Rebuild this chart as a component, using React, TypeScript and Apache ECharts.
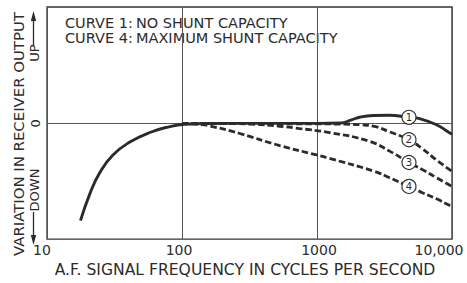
import React, { useEffect, useRef } from 'react';
import * as echarts from 'echarts';

// ---- data ----
const FREQ_TICKS = [10, 100, 1000, 10000];
const FREQ_TICK_LABELS = ['10', '100', '1000', '10,000'];

const curve1Freq = [17.7, 20.8, 24.7, 30.8, 41.1, 57.8, 81.3, 105, 160, 400, 1000, 1500, 1800, 2100, 2600, 3400, 4800, 5740, 7680, 9570, 10000];
const curve1Val = [-8.41, -6.07, -4.23, -2.73, -1.62, -0.79, -0.28, -0.08, -0.01, 0, 0, 0.03, 0.3, 0.55, 0.68, 0.7, 0.52, 0.4, -0.12, -0.81, -0.93];

const curve2Freq = [100, 300, 1000, 1600, 2065, 2670, 3444, 4800, 6040, 7680, 10000];
const curve2Val = [0, -0.03, -0.05, -0.07, -0.12, -0.27, -0.73, -1.42, -2.2, -3.17, -4.15];

const curve3Freq = [100, 200, 317, 529, 743, 1239, 2449, 3444, 4800, 6040, 7680, 10000];
const curve3Val = [0, -0.02, -0.06, -0.25, -0.45, -0.8, -1.55, -2.4, -3.38, -4.0, -4.7, -5.45];

const curve4Freq = [100, 136, 161, 268, 529, 993, 1239, 2670, 3444, 4800, 6040, 7680, 9570, 10000];
const curve4Val = [0, -0.1, -0.23, -0.88, -1.92, -2.73, -3.03, -4.15, -4.7, -5.45, -5.99, -6.52, -7.08, -7.15];

const CURVE_LABELS = ['1', '2', '3', '4'];
const CURVE_LABEL_FREQ = 4800;
const CURVE_LABEL_VALUES = [0.52, -1.42, -3.38, -5.45];

const NOTE_KEYS = ['CURVE 1:', 'CURVE 4:'];
const NOTE_TEXTS = ['NO SHUNT CAPACITY', 'MAXIMUM SHUNT CAPACITY'];

const X_NAME = 'A.F. SIGNAL FREQUENCY IN CYCLES PER SECOND';
const Y_NAME = 'VARIATION IN RECEIVER OUTPUT';

const INK = '#2b2b2b';
const FONT = 'DejaVu Sans';

const zip = (xs: number[], ys: number[]) => xs.map((x, i) => [x, ys[i]]);

export default function App() {
  const ref = useRef<HTMLDivElement>(null);

  useEffect(() => {
    if (!ref.current) return;
    const chart = echarts.init(ref.current, undefined, { renderer: 'svg' });

    const dashed = {
      color: INK,
      width: 2.8,
      type: [6.5, 3] as any,
      cap: 'butt' as const,
    };

    const lineSeries = (data: number[][], solid: boolean) => ({
      type: 'line',
      data,
      smooth: 0.5,
      showSymbol: false,
      symbol: 'none',
      lineStyle: solid ? { color: INK, width: 2.9 } : dashed,
      z: 3,
    });

    const rich: any = {};
    const shifts = [-5, -3, 2, -13];
    FREQ_TICK_LABELS.forEach((_, i) => {
      const s = shifts[i];
      rich['t' + i] = {
        fontFamily: FONT,
        fontSize: 14,
        color: INK,
        padding: s < 0 ? [0, -2 * s, 0, 0] : [0, 0, 0, 2 * s],
      };
    });

    chart.setOption({
      animation: false,
      backgroundColor: '#ffffff',
      grid: {
        left: 47,
        top: 7,
        width: 405,
        height: 240,
        show: true,
        borderColor: '#333',
        borderWidth: 1.3,
        backgroundColor: 'transparent',
      },
      xAxis: {
        type: 'log',
        logBase: 10,
        min: 10,
        max: 10000,
        name: X_NAME,
        nameLocation: 'middle',
        nameGap: 16,
        nameTextStyle: { fontFamily: FONT, fontSize: 15.6, color: INK, padding: [0, 9, 0, 0] },
        axisLine: { show: false },
        axisTick: { show: false },
        splitLine: { show: true, lineStyle: { color: '#555', width: 1 } },
        axisLabel: {
          margin: 4,
          formatter: (v: number) => {
            const i = FREQ_TICKS.findIndex((t) => Math.abs(t - v) < 1e-6 * t);
            return i >= 0 ? `{t${i}|${FREQ_TICK_LABELS[i]}}` : '';
          },
          rich,
        },
      },
      yAxis: {
        type: 'value',
        min: -10,
        max: 10.05,
        interval: 10,
        axisLine: { show: false },
        axisTick: { show: false },
        splitLine: { show: false },
        axisLabel: {
          margin: 5,
          rotate: 90,
          fontFamily: FONT,
          fontSize: 13,
          color: INK,
          formatter: (v: number) => (v === 0 ? '0' : ''),
        },
      },
      series: [
        {
          ...lineSeries(zip(curve1Freq, curve1Val), true),
          markLine: {
            silent: true,
            symbol: 'none',
            label: { show: false },
            lineStyle: { color: '#555', width: 1, type: 'solid' },
            data: [{ yAxis: 0 }],
            z: 1,
          },
        },
        lineSeries(zip(curve2Freq, curve2Val), false),
        lineSeries(zip(curve3Freq, curve3Val), false),
        lineSeries(zip(curve4Freq, curve4Val), false),
        {
          type: 'scatter',
          data: CURVE_LABEL_VALUES.map((v, i) => ({ value: [CURVE_LABEL_FREQ, v], name: CURVE_LABELS[i] })),
          symbol: 'circle',
          symbolSize: 14,
          itemStyle: { color: '#ffffff', borderColor: '#333', borderWidth: 1.2, opacity: 1 },
          label: {
            show: true,
            position: 'inside',
            formatter: (p: any) => p.name,
            fontFamily: FONT,
            fontSize: 10,
            color: INK,
          },
          z: 5,
        },
      ],
      graphic: [
        ...NOTE_KEYS.map((t, i) => ({
          type: 'text',
          left: 65,
          top: 15 + i * 15,
          style: { text: t, fontFamily: FONT, fontSize: 14.5, fill: INK },
        })),
        ...NOTE_TEXTS.map((t, i) => ({
          type: 'text',
          left: 136,
          top: 15 + i * 15,
          style: { text: t, fontFamily: FONT, fontSize: 14.5, fill: INK },
        })),
        {
          type: 'text',
          x: 18.5,
          y: 134,
          rotation: Math.PI / 2,
          style: { text: Y_NAME, fontFamily: FONT, fontSize: 14.9, fill: INK, align: 'center', verticalAlign: 'middle' },
        },
        {
          type: 'text',
          x: 34,
          y: 53,
          rotation: Math.PI / 2,
          style: { text: 'UP', fontFamily: FONT, fontSize: 13, fill: INK, align: 'center', verticalAlign: 'middle' },
        },
        {
          type: 'text',
          x: 34,
          y: 190,
          rotation: Math.PI / 2,
          style: { text: 'DOWN', fontFamily: FONT, fontSize: 13, fill: INK, align: 'center', verticalAlign: 'middle' },
        },
        { type: 'line', shape: { x1: 33.5, y1: 20, x2: 33.5, y2: 45 }, style: { stroke: INK, lineWidth: 1.3 } },
        { type: 'polygon', shape: { points: [[33.5, 11], [30.8, 21], [36.2, 21]] }, style: { fill: INK } },
        { type: 'line', shape: { x1: 33.5, y1: 212, x2: 33.5, y2: 237 }, style: { stroke: INK, lineWidth: 1.3 } },
        { type: 'polygon', shape: { points: [[33.5, 245], [30.8, 235], [36.2, 235]] }, style: { fill: INK } },
      ],
    });

    return () => chart.dispose();
  }, []);

  return (
    <div
      ref={ref}
      style={{ position: 'absolute', left: 0, top: 0, width: 467, height: 283 }}
    />
  );
}
